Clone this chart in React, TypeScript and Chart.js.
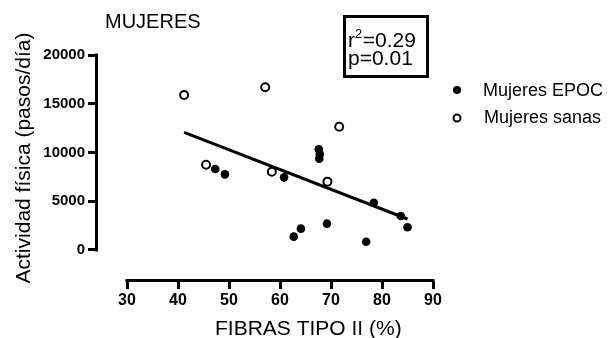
import React, { useEffect, useRef } from "react";
import { Chart, registerables } from "chart.js";

Chart.register(...registerables);

// ---- data ----
const epocX = [47.3, 49.2, 60.8, 67.6, 67.8, 67.7, 78.4, 83.7, 85.0, 69.2, 64.1, 62.7, 76.9];
const epocY = [8310, 7760, 7450, 10330, 9810, 9370, 4850, 3490, 2330, 2700, 2190, 1370, 850];
const sanasX = [41.2, 57.1, 71.6, 45.5, 58.4, 69.3];
const sanasY = [15900, 16700, 12650, 8750, 8030, 7010];
const fitX = [41.2, 85.0];
const fitY = [12070, 3180];
const xTicks = [30, 40, 50, 60, 70, 80, 90];
const yTicks = [0, 5000, 10000, 15000, 20000];
const seriesLabels = ["Mujeres EPOC", "Mujeres sanas"];
const titleText = "MUJERES";
const xTitle = "FIBRAS TIPO II (%)";
const yTitle = "Actividad física (pasos/día)";
const r2Value = "0.29";
const pValue = "0.01";

const FONT = "'Liberation Sans', Arial, Helvetica, sans-serif";

const decorPlugin = {
  id: "decor",
  afterDraw(chart: any) {
    const ctx = chart.ctx;
    const xs = chart.scales.x;
    const ys = chart.scales.y;
    const area = chart.chartArea;
    ctx.save();
    ctx.strokeStyle = "#000";
    ctx.fillStyle = "#000";
    ctx.lineWidth = 3;
    ctx.lineCap = "butt";
    // y axis line (only over the 0..20000 range)
    const yTop = ys.getPixelForValue(yTicks[yTicks.length - 1]);
    const yBot = ys.getPixelForValue(yTicks[0]);
    const ax = area.left + 0.5;
    ctx.beginPath();
    ctx.moveTo(ax, yTop - 1.5);
    ctx.lineTo(ax, yBot + 1.5);
    ctx.stroke();
    // x axis line (only over 30..90 range)
    const xL = xs.getPixelForValue(xTicks[0]);
    const xR = xs.getPixelForValue(xTicks[xTicks.length - 1]);
    const ay = area.bottom - 0.5;
    ctx.beginPath();
    ctx.moveTo(xL - 1.5, ay);
    ctx.lineTo(xR + 1.5, ay);
    ctx.stroke();

    // title
    ctx.textAlign = "left";
    ctx.textBaseline = "alphabetic";
    ctx.font = `20px ${FONT}`;
    ctx.fillText(titleText, 105, 28);

    // x title
    ctx.font = `21px ${FONT}`;
    ctx.textAlign = "left";
    ctx.fillText(xTitle, 215, 335);

    // y title
    ctx.save();
    ctx.translate(30, 158);
    ctx.rotate(-Math.PI / 2);
    ctx.textAlign = "center";
    ctx.font = `21px ${FONT}`;
    ctx.fillText(yTitle, 0, 0);
    ctx.restore();

    // stats box
    ctx.lineWidth = 3;
    ctx.strokeRect(344.5, 16.5, 83, 60);
    ctx.textAlign = "left";
    ctx.font = `21px ${FONT}`;
    ctx.fillText("r", 348, 47);
    const w = ctx.measureText("r").width;
    ctx.font = `13px ${FONT}`;
    ctx.fillText("2", 348 + w, 38);
    const w2 = ctx.measureText("2").width;
    ctx.font = `21px ${FONT}`;
    ctx.fillText("=" + r2Value, 348 + w + w2 + 0.5, 47);
    ctx.fillText("p=" + pValue, 348, 65);

    // legend
    ctx.font = `18px ${FONT}`;
    ctx.beginPath();
    ctx.arc(457, 90, 4, 0, Math.PI * 2);
    ctx.fill();
    ctx.fillText(seriesLabels[0], 483, 96);
    ctx.lineWidth = 2;
    ctx.beginPath();
    ctx.arc(457, 118, 3.5, 0, Math.PI * 2);
    ctx.stroke();
    ctx.fillText(seriesLabels[1], 484, 123);
    ctx.restore();
  },
};

export default function App() {
  const ref = useRef<HTMLCanvasElement | null>(null);
  useEffect(() => {
    if (!ref.current) return;
    const chart = new Chart(ref.current, {
      type: "scatter",
      data: {
        datasets: [
          {
            label: seriesLabels[0],
            data: epocX.map((x, i) => ({ x, y: epocY[i] })),
            backgroundColor: "#000",
            borderColor: "#000",
            borderWidth: 0,
            pointRadius: 4.3,
            order: 1,
          },
          {
            label: seriesLabels[1],
            data: sanasX.map((x, i) => ({ x, y: sanasY[i] })),
            backgroundColor: "#fff",
            borderColor: "#000",
            borderWidth: 2,
            pointRadius: 4,
            order: 2,
          },
          {
            label: "fit",
            data: fitX.map((x, i) => ({ x, y: fitY[i] })),
            showLine: true,
            borderColor: "#000",
            borderWidth: 3,
            pointRadius: 0,
            fill: false,
            order: 3,
          } as any,
        ],
      },
      options: {
        animation: false,
        responsive: true,
        maintainAspectRatio: false,
        layout: { padding: { left: 0, top: 55, right: 175, bottom: 0 } },
        plugins: { legend: { display: false }, tooltip: { enabled: false }, title: { display: false } },
        scales: {
          x: {
            type: "linear",
            min: 23.92,
            max: 90,
            afterBuildTicks: (s: any) => {
              s.ticks = xTicks.map((v) => ({ value: v }));
            },
            afterFit: (s: any) => {
              s.height = 57;
            },
            grid: { drawOnChartArea: false, drawTicks: true, tickLength: 8, lineWidth: 3, color: "#000" },
            border: { display: false },
            ticks: {
              color: "#000",
              padding: 2,
              autoSkip: false,
              maxRotation: 0,
              font: { family: FONT, size: 16, weight: "bold" },
              callback: (v: any) => String(v),
            },
          },
          y: {
            type: "linear",
            min: -3180,
            max: 20000,
            afterBuildTicks: (s: any) => {
              s.ticks = yTicks.map((v) => ({ value: v }));
            },
            afterFit: (s: any) => {
              s.width = 96;
            },
            grid: { drawOnChartArea: false, drawTicks: true, tickLength: 8, lineWidth: 3, color: "#000" },
            border: { display: false },
            ticks: {
              color: "#000",
              padding: 3,
              autoSkip: false,
              font: { family: FONT, size: 15, weight: "bold" },
              callback: (v: any) => String(v),
            },
          },
        },
      } as any,
      plugins: [decorPlugin],
    });
    return () => chart.destroy();
  }, []);
  return (
    <div style={{ position: "absolute", left: 0, top: 0, width: 608, height: 338, background: "#fff" }}>
      <canvas ref={ref} />
    </div>
  );
}
